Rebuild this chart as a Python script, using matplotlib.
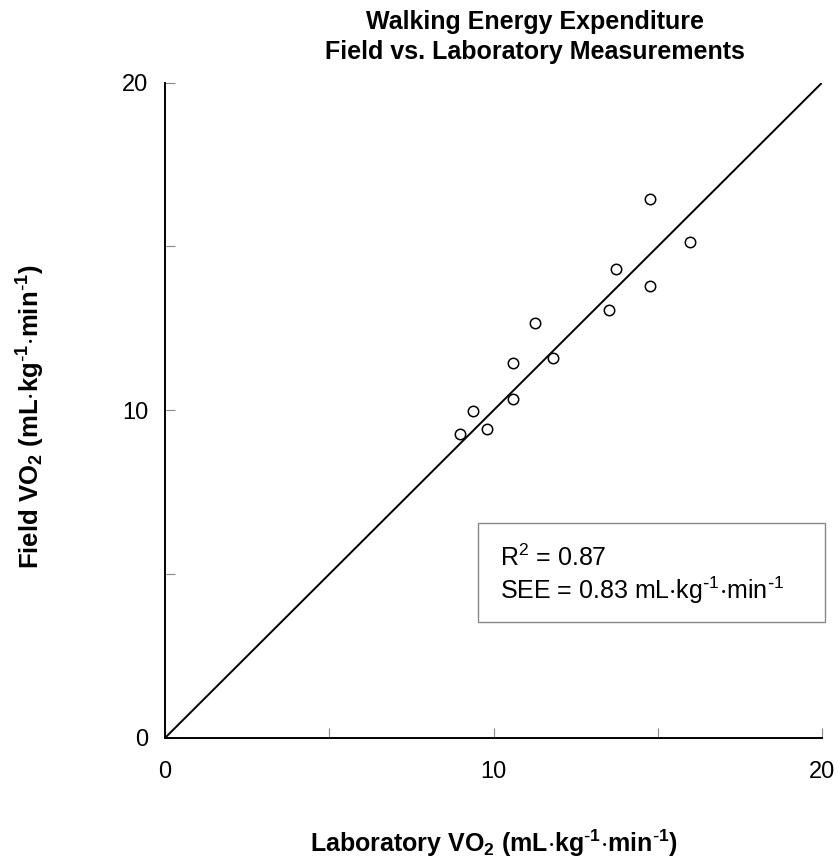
import matplotlib
matplotlib.use('Agg')
import matplotlib.pyplot as plt

plt.rcParams['font.family'] = ['Liberation Sans', 'DejaVu Sans']
plt.rcParams['mathtext.default'] = 'regular'

# Laboratory vs field VO2 (mL/kg/min)
lab_vo2 = [8.98, 9.37, 9.81, 10.60, 10.60, 11.25, 11.80, 13.51, 13.74, 14.76, 14.76, 15.97]
field_vo2 = [9.28, 9.99, 9.44, 11.43, 10.35, 12.66, 11.60, 13.06, 14.31, 16.45, 13.79, 15.15]

identity_x = [0, 20]
identity_y = [0, 20]

tick_pos = [0, 5, 10, 15, 20]
tick_labels = ['0', '', '10', '', '20']

r_squared = 0.87
see = 0.83

UNITS = r'(mL$\cdot$kg$^{\text{-}1}$$\cdot$min$^{\text{-}1}$)'

fig = plt.figure(figsize=(8.38, 8.61), dpi=100)
ax = fig.add_axes([0.197, 0.143, 0.784, 0.761])

ax.plot(identity_x, identity_y, color='black', linewidth=1.4)
ax.plot(lab_vo2, field_vo2, 'o', markersize=7.5, markerfacecolor='white',
        markeredgecolor='black', markeredgewidth=1.1)

ax.set_xlim(0, 20)
ax.set_ylim(0, 20)
ax.set_xticks(tick_pos)
ax.set_xticklabels(tick_labels)
ax.set_yticks(tick_pos)
ax.set_yticklabels(tick_labels)
ax.tick_params(direction='in', length=7, width=0.8, color='#888888',
               labelsize=17)
ax.tick_params(axis='x', pad=17)
ax.tick_params(axis='y', pad=12)
for side in ['top', 'right']:
    ax.spines[side].set_visible(False)
for side in ['left', 'bottom']:
    ax.spines[side].set_linewidth(1.4)

ax.set_title('Walking Energy Expenditure\nField vs. Laboratory Measurements',
             fontsize=18, fontweight='bold', pad=17, linespacing=1.3,
             x=0.563)
ax.set_xlabel('Laboratory VO$_2$ ' + UNITS,
              fontsize=18, fontweight='bold', labelpad=32)
ax.set_ylabel('Field VO$_2$ ' + UNITS,
              fontsize=18.5, fontweight='bold')
ax.yaxis.set_label_coords(-0.18, 0.49)

# stats box
box = plt.Rectangle((9.54, 3.54), 10.56, 3.02, transform=ax.transData,
                    facecolor='white', edgecolor='#888888', linewidth=1.0,
                    clip_on=False)
ax.add_patch(box)
ax.text(10.2, 5.25, f'R$^2$ = {r_squared:.2f}', fontsize=18, va='baseline')
ax.text(10.2, 4.25, f'SEE = {see:.2f} mL$\\cdot$kg$^{{\\text{{-}}1}}$$\\cdot$min$^{{\\text{{-}}1}}$',
        fontsize=18, va='baseline')

fig.savefig('out.png', dpi=100)
